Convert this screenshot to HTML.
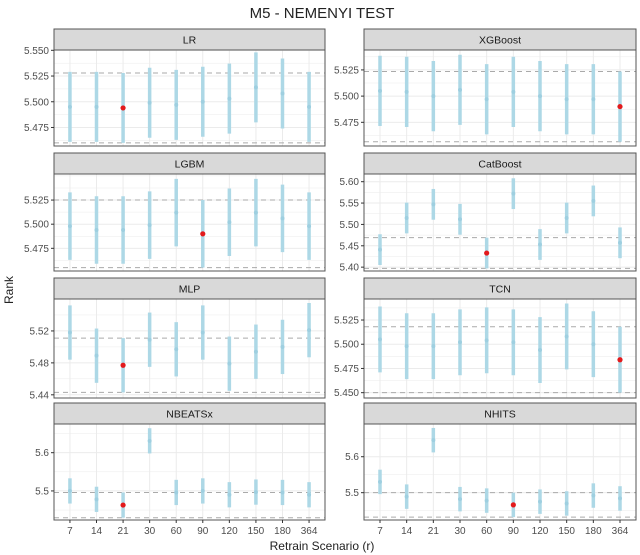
<!DOCTYPE html>
<html><head><meta charset="utf-8"><style>
body{margin:0;background:#fff;}
svg{display:block;font-family:"Liberation Sans",sans-serif;}
</style></head><body>
<svg id="chart" width="640" height="555" viewBox="0 0 640 555">
<text x="322" y="18" text-anchor="middle" font-size="15" fill="#222">M5 - NEMENYI TEST</text>
<text transform="translate(13,290) rotate(-90)" text-anchor="middle" font-size="12" fill="#222">Rank</text>
<text x="322" y="550" text-anchor="middle" font-size="12" fill="#222">Retrain Scenario (r)</text>
</svg>
<script>
const categories = ["7","14","21","30","60","90","120","150","180","364"];
const lrValues = [5.495,5.495,5.494,5.499,5.497,5.500,5.503,5.514,5.508,5.495];
const lgbmValues = [5.498,5.494,5.494,5.499,5.512,5.490,5.502,5.512,5.506,5.498];
const xgbValues = [5.505,5.504,5.500,5.506,5.497,5.504,5.500,5.497,5.497,5.490];
const catValues = [5.441,5.515,5.547,5.512,5.433,5.572,5.453,5.515,5.555,5.457];
const mlpValues = [5.518,5.489,5.477,5.509,5.497,5.518,5.479,5.494,5.500,5.521];
const tcnValues = [5.505,5.498,5.498,5.502,5.504,5.502,5.494,5.508,5.500,5.484];
const nbeatsValues = [5.500,5.478,5.463,5.631,5.496,5.500,5.490,5.497,5.496,5.490];
const nhitsValues = [5.530,5.489,5.646,5.482,5.478,5.466,5.475,5.470,5.492,5.484];
const criticalDiffs = [0.034,0.0335,0.035,0.036,0.034,0.034,0.033,0.034];
const yDomains = [[5.457,5.5503],[5.4524,5.544],[5.4515,5.552],[5.391,5.618],[5.436,5.56],[5.4445,5.5467],[5.424,5.675],[5.424,5.691]];
const yTicks = [["5.475","5.500","5.525","5.550"],["5.475","5.500","5.525"],["5.475","5.500","5.525"],["5.40","5.45","5.50","5.55","5.60"],["5.44","5.48","5.52"],["5.450","5.475","5.500","5.525"],["5.5","5.6"],["5.5","5.6"]];
const panelNames = ["LR","XGBoost","LGBM","CatBoost","MLP","TCN","NBEATSx","NHITS"];
const panelSeries = [lrValues,xgbValues,lgbmValues,catValues,mlpValues,tcnValues,nbeatsValues,nhitsValues];

const NS="http://www.w3.org/2000/svg";
const svg=document.getElementById('chart');
function mk(tag,attrs,parent){const e=document.createElementNS(NS,tag);for(const k in attrs)e.setAttribute(k,attrs[k]);(parent||svg).appendChild(e);return e;}
const cols=[[54,325],[364,636]];
const rows=[[29,50,146],[153,174,271],[278,299,398],[403,424,520]];
panelNames.forEach((name,i)=>{
  const c=i%2, r=Math.floor(i/2);
  const [x0,x1]=cols[c]; const [sTop,pTop,pBot]=rows[r];
  const g=mk('g',{});
  
  
  const [d0,d1]=yDomains[i];
  const y=v=>pBot-(v-d0)/(d1-d0)*(pBot-pTop);
  const step=(x1-x0)/(categories.length-1+1.2);
  const x=k=>x0+0.6*step+k*step;
  mk('rect',{x:x0,y:pTop,width:x1-x0,height:pBot-pTop,fill:'#fff'},g);
  // grid
  const tv=yTicks[i].map(Number);
  const dt=tv.length>1?tv[1]-tv[0]:0.05;
  for(let v=tv[0]-dt/2;v<=d1;v+=dt/2){ if(v<d0)continue;
    const isMajor=tv.some(t=>Math.abs(t-v)<1e-6);
    mk('line',{x1:x0,x2:x1,y1:y(v),y2:y(v),stroke:'#ebebeb','stroke-width':isMajor?1:0.5},g);}
  categories.forEach((cat,k)=>mk('line',{x1:x(k),x2:x(k),y1:pTop,y2:pBot,stroke:'#ebebeb','stroke-width':1},g));
  const vals=panelSeries[i]; const cd=criticalDiffs[i];
  const best=Math.min(...vals); const bi=vals.indexOf(best);
  [best+cd,best-cd].forEach(v=>{const l=mk('line',{x1:x0,x2:x1,y1:y(v),y2:y(v),stroke:'#aaa','stroke-width':1,'stroke-dasharray':'5,4'},g);
    });
  vals.forEach((v,k)=>{
    const b=mk('line',{x1:x(k),x2:x(k),y1:y(v+cd),y2:y(v-cd),stroke:'#add8e6','stroke-width':3.5},g);
    
    
    const p=mk('circle',{cx:x(k),cy:y(v),r:k===bi?2.6:2,fill:k===bi?'#e31a1c':'#9ecfe0'},g);
    
    
  });
  mk('rect',{x:x0,y:pTop,width:x1-x0,height:pBot-pTop,fill:'none',stroke:'#555','stroke-width':1},g);
  const s=mk('rect',{x:x0,y:sTop,width:x1-x0,height:pTop-sTop,fill:'#d9d9d9',stroke:'#555','stroke-width':1},g);
  
  
  const st=mk('text',{x:(x0+x1)/2,y:(sTop+pTop)/2+4,'text-anchor':'middle','font-size':10.5,fill:'#1a1a1a'},g);
  st.textContent=name;
  yTicks[i].forEach(t=>{const v=Number(t); if(v<d0||v>d1)return;
    mk('line',{x1:x0-3,x2:x0,y1:y(v),y2:y(v),stroke:'#333'},g);
    const tt=mk('text',{x:x0-5,y:y(v)+3.5,'text-anchor':'end','font-size':10,fill:'#4d4d4d'},g);
    
    
    tt.textContent=t;});
  if(r===3){categories.forEach((cat,k)=>{
    mk('line',{x1:x(k),x2:x(k),y1:pBot,y2:pBot+3,stroke:'#333'},g);
    const xt=mk('text',{x:x(k),y:pBot+14,'text-anchor':'middle','font-size':10,fill:'#4d4d4d'},g);
    
    
    xt.textContent=cat;});}
});
</script>
</body></html>
